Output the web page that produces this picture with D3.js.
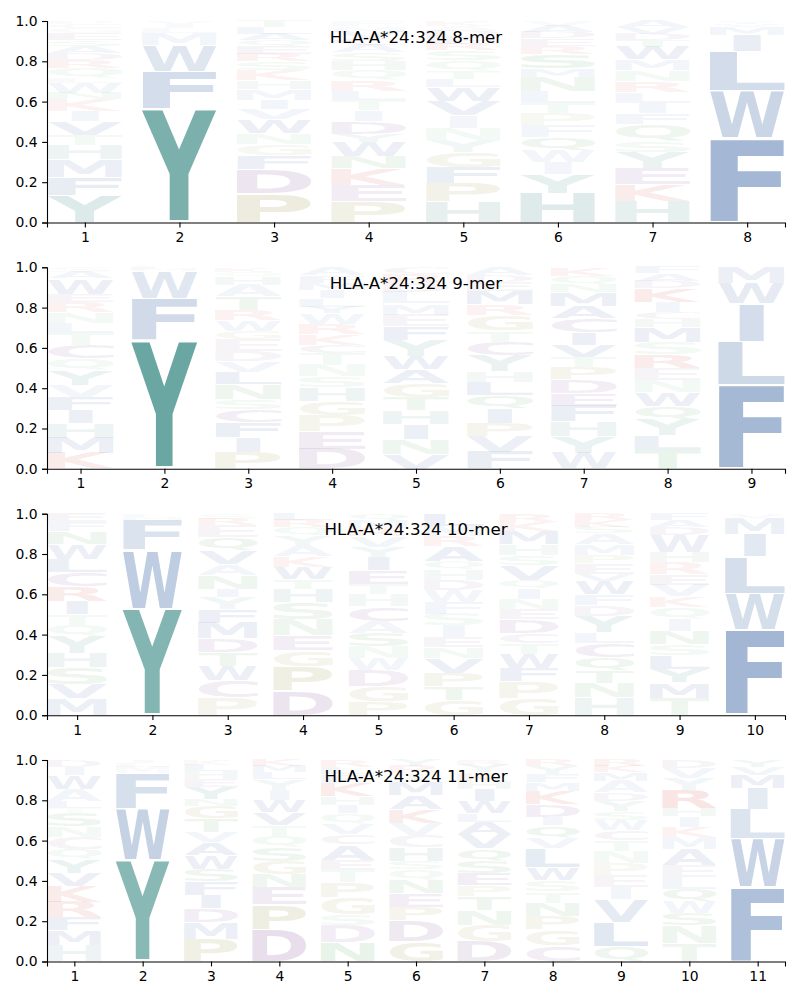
<!DOCTYPE html>
<html><head><meta charset="utf-8">
<script src="https://cdn.jsdelivr.net/npm/d3@7"></script>
<style>body{margin:0;background:#fff} svg{display:block}</style>
</head><body><svg id="chart" width="800" height="1000"></svg>
<script>
// ---------------- data (letter, frequency), bottom to top per position ----------------
const allele = "HLA-A*24:324";
const lengths = [8, 9, 10, 11];
const yTicks = [0, 0.2, 0.4, 0.6, 0.8, 1.0];

const mer8 = [
 [["Y",0.13],["F",0.088],["M",0.088],["H",0.07],["T",0.05],["V",0.065],["I",0.05],["K",0.058],["N",0.03],["W",0.05],["L",0.025],["Q",0.045],["R",0.04],["D",0.035],["A",0.035],["S",0.03],["E",0.03],["G",0.025],["C",0.02],["P",0.016]],
 [["Y",0.565],["F",0.185],["W",0.13],["M",0.06],["L",0.025],["I",0.02],["V",0.015]],
 [["P",0.138],["D",0.113],["F",0.066],["G",0.05],["N",0.053],["W",0.063],["V",0.05],["I",0.043],["M",0.05],["H",0.04],["K",0.05],["S",0.04],["R",0.035],["E",0.035],["Q",0.03],["A",0.03],["L",0.03],["T",0.03]],
 [["P",0.096],["E",0.075],["K",0.075],["N",0.058],["W",0.065],["Y",0.035],["D",0.058],["I",0.05],["T",0.05],["L",0.04],["R",0.05],["Q",0.045],["H",0.04],["S",0.04],["A",0.035],["C",0.03],["V",0.03],["M",0.025],["F",0.025]],
 [["H",0.1],["P",0.09],["F",0.075],["G",0.075],["Y",0.058],["N",0.058],["I",0.058],["V",0.07],["W",0.066],["L",0.04],["T",0.04],["Q",0.05],["S",0.05],["R",0.03],["E",0.03],["D",0.03],["A",0.025],["K",0.025]],
 [["H",0.143],["Y",0.09],["I",0.058],["W",0.058],["Q",0.063],["F",0.058],["P",0.058],["T",0.05],["L",0.058],["N",0.07],["M",0.04],["S",0.07],["R",0.04],["E",0.035],["D",0.03],["A",0.03],["V",0.025]],
 [["H",0.1],["K",0.078],["E",0.073],["Y",0.075],["S",0.05],["Q",0.08],["F",0.05],["I",0.05],["L",0.05],["R",0.05],["N",0.05],["M",0.05],["W",0.06],["T",0.03],["D",0.03],["V",0.03],["A",0.03]],
 [["F",0.42],["W",0.235],["L",0.195],["I",0.08],["M",0.04],["V",0.015],["Y",0.015]]
];

const mer9 = [
 [["K",0.075],["M",0.075],["H",0.07],["I",0.063],["F",0.066],["V",0.058],["Y",0.07],["Q",0.058],["C",0.066],["T",0.058],["L",0.05],["N",0.05],["R",0.05],["E",0.04],["W",0.075],["A",0.03],["S",0.025]],
 [["Y",0.64],["F",0.205],["W",0.135],["M",0.01],["L",0.01]],
 [["P",0.083],["I",0.07],["F",0.075],["C",0.063],["S",0.05],["N",0.07],["L",0.06],["V",0.055],["D",0.05],["E",0.058],["G",0.04],["W",0.05],["R",0.05],["T",0.066],["A",0.058],["H",0.04],["Q",0.025],["K",0.021]],
 [["D",0.096],["E",0.083],["P",0.076],["G",0.07],["H",0.066],["S",0.053],["N",0.055],["T",0.058],["C",0.04],["K",0.05],["R",0.05],["W",0.05],["Y",0.033],["L",0.04],["I",0.04],["M",0.035],["F",0.035],["A",0.04]],
 [["V",0.066],["N",0.066],["I",0.066],["H",0.058],["T",0.058],["G",0.063],["A",0.06],["W",0.06],["Y",0.07],["F",0.06],["E",0.05],["M",0.05],["L",0.05],["D",0.04],["R",0.04],["C",0.03]],
 [["F",0.075],["V",0.07],["P",0.058],["I",0.066],["Q",0.058],["L",0.058],["H",0.05],["Y",0.07],["C",0.06],["T",0.05],["G",0.066],["R",0.05],["M",0.06],["E",0.04],["D",0.03],["A",0.035]],
 [["W",0.075],["Y",0.078],["H",0.07],["F",0.075],["E",0.058],["D",0.066],["P",0.058],["T",0.05],["V",0.058],["I",0.058],["C",0.066],["A",0.058],["M",0.066],["N",0.04],["Q",0.04],["K",0.04]],
 [["T",0.09],["L",0.07],["Y",0.075],["Q",0.066],["W",0.066],["N",0.058],["E",0.058],["R",0.066],["S",0.058],["M",0.07],["H",0.04],["C",0.033],["I",0.05],["K",0.066],["D",0.035],["A",0.035],["F",0.03]],
 [["F",0.415],["L",0.215],["I",0.19],["W",0.1],["M",0.08]]
];

const mer10 = [
 [["M",0.075],["V",0.066],["S",0.075],["H",0.066],["Y",0.08],["Q",0.05],["T",0.05],["I",0.058],["R",0.066],["C",0.066],["L",0.058],["W",0.07],["N",0.058],["F",0.04],["E",0.04]],
 [["Y",0.527],["W",0.29],["F",0.15],["M",0.015],["L",0.015]],
 [["P",0.086],["C",0.08],["W",0.07],["T",0.066],["D",0.066],["M",0.075],["F",0.066],["Y",0.058],["I",0.04],["N",0.066],["A",0.05],["V",0.066],["Q",0.066],["E",0.058],["R",0.03],["S",0.025]],
 [["D",0.116],["P",0.118],["G",0.075],["E",0.07],["N",0.078],["S",0.08],["H",0.066],["T",0.045],["W",0.058],["K",0.05],["A",0.05],["Y",0.05],["Q",0.04],["R",0.035],["L",0.03]],
 [["P",0.066],["G",0.075],["D",0.075],["W",0.058],["N",0.058],["S",0.066],["A",0.058],["C",0.07],["H",0.058],["T",0.05],["E",0.066],["I",0.066],["Y",0.05],["V",0.05],["R",0.04],["M",0.04],["Q",0.03]],
 [["G",0.075],["T",0.066],["P",0.066],["V",0.075],["N",0.05],["E",0.05],["I",0.058],["S",0.058],["F",0.058],["W",0.058],["D",0.05],["H",0.05],["Q",0.04],["A",0.075],["R",0.05],["M",0.05],["L",0.06]],
 [["G",0.083],["P",0.08],["F",0.066],["W",0.07],["T",0.05],["C",0.05],["D",0.066],["E",0.05],["N",0.05],["I",0.05],["Q",0.04],["V",0.075],["S",0.05],["H",0.05],["M",0.066],["K",0.045],["R",0.04]],
 [["H",0.083],["N",0.066],["T",0.058],["Q",0.058],["C",0.066],["L",0.05],["Y",0.075],["D",0.05],["F",0.05],["W",0.06],["V",0.03],["E",0.05],["P",0.04],["M",0.05],["A",0.05],["S",0.03],["K",0.03],["R",0.03]],
 [["T",0.083],["M",0.075],["Y",0.066],["L",0.066],["S",0.055],["N",0.066],["I",0.058],["Q",0.058],["K",0.05],["V",0.058],["E",0.05],["R",0.058],["H",0.05],["W",0.083],["D",0.04],["A",0.035],["F",0.03]],
 [["F",0.423],["W",0.182],["L",0.182],["I",0.113],["M",0.08],["V",0.02]]
];

const mer11 = [
 [["H",0.08],["M",0.071],["F",0.063],["R",0.075],["K",0.075],["V",0.066],["Y",0.066],["Q",0.05],["C",0.058],["N",0.05],["S",0.066],["T",0.025],["L",0.033],["A",0.058],["W",0.066],["I",0.04],["D",0.035]],
 [["Y",0.502],["W",0.256],["F",0.176],["M",0.03],["L",0.02],["I",0.016]],
 [["P",0.108],["M",0.078],["D",0.066],["I",0.066],["F",0.066],["S",0.058],["W",0.066],["A",0.06],["V",0.05],["T",0.066],["G",0.06],["N",0.03],["Y",0.058],["E",0.04],["H",0.035],["L",0.03],["K",0.025]],
 [["D",0.154],["P",0.121],["E",0.083],["N",0.063],["G",0.066],["S",0.066],["Q",0.053],["T",0.055],["V",0.06],["W",0.06],["I",0.05],["Y",0.05],["L",0.035],["M",0.03],["K",0.03]],
 [["N",0.091],["D",0.083],["S",0.053],["G",0.083],["P",0.07],["T",0.058],["E",0.05],["A",0.075],["C",0.05],["V",0.05],["Q",0.05],["I",0.04],["H",0.04],["K",0.066],["F",0.04],["L",0.035],["R",0.035]],
 [["G",0.096],["D",0.1],["P",0.063],["E",0.066],["N",0.066],["Q",0.05],["S",0.04],["H",0.066],["C",0.058],["V",0.058],["K",0.066],["A",0.066],["M",0.066],["T",0.04],["R",0.035],["Y",0.03]],
 [["D",0.096],["G",0.078],["N",0.073],["T",0.066],["P",0.05],["E",0.058],["S",0.06],["Q",0.058],["V",0.07],["A",0.058],["L",0.04],["W",0.058],["I",0.058],["H",0.04],["K",0.04],["Y",0.035],["R",0.025]],
 [["C",0.075],["G",0.075],["P",0.063],["N",0.063],["T",0.053],["S",0.055],["W",0.06],["L",0.09],["V",0.05],["Q",0.058],["I",0.04],["D",0.058],["K",0.066],["M",0.04],["F",0.04],["Y",0.035],["R",0.03]],
 [["Q",0.07],["L",0.12],["V",0.11],["I",0.058],["E",0.058],["P",0.058],["N",0.058],["T",0.05],["C",0.05],["W",0.05],["S",0.04],["Y",0.05],["D",0.04],["A",0.058],["M",0.04],["K",0.03],["R",0.03]],
 [["T",0.088],["N",0.088],["S",0.06],["W",0.058],["Q",0.063],["L",0.058],["E",0.058],["A",0.08],["M",0.058],["K",0.05],["I",0.05],["H",0.04],["R",0.09],["Y",0.058],["V",0.05],["D",0.04]],
 [["F",0.37],["W",0.24],["L",0.145],["I",0.105],["M",0.065],["V",0.04],["Y",0.035]]
];

// letter colour groups
const groupColor = {hyd:"#3b66a4", tyr:"#2a807a", his:"#4a928a", acid:"#85549a", pg:"#9a9545", basic:"#c8352a", polar:"#4ea35c"};
const letterGroup = {A:"hyd",V:"hyd",L:"hyd",I:"hyd",M:"hyd",F:"hyd",W:"hyd",Y:"tyr",H:"his",
  D:"acid",E:"acid",C:"acid",P:"pg",G:"pg",K:"basic",R:"basic",N:"polar",Q:"polar",S:"polar",T:"polar"};

// ---------------- drawing ----------------
const svg = d3.select("#chart");
const FONT = "DejaVu Sans";
const left = 47, right = 785;
const tops = [21, 267.3, 513.7, 760];
const ph = 201.5;
const panels = [mer8, mer9, mer10, mer11];

const ctx = document.createElement("canvas").getContext("2d");
ctx.font = `bold 100px "${FONT}"`;
const cache = {};
function glyph(ch) {
  if (!cache[ch]) {
    const m = ctx.measureText(ch);
    cache[ch] = {l: m.actualBoundingBoxLeft, r: m.actualBoundingBoxRight,
                 a: m.actualBoundingBoxAscent, d: m.actualBoundingBoxDescent};
  }
  return cache[ch];
}
const gE = glyph("E");

panels.forEach((cols, i) => {
  const n = lengths[i];
  const top = tops[i], bottom = top + ph;
  const x = d3.scaleLinear().domain([0.6, n + 0.4]).range([left, right]);
  const y = d3.scaleLinear().domain([0, 1]).range([bottom, top]);
  const g = svg.append("g");

  cols.forEach((col, j) => {
    const pos = j + 1;
    const total = d3.sum(col, d => d[1]);
    let acc = 0;
    col.forEach(([ch, v]) => {
      const h = v / total;
      const y0 = acc, y1 = acc + h;
      acc = y1;
      const pad = 0.02 * h;
      const m = glyph(ch);
      const boxW = x(pos + 0.395) - x(pos - 0.395);
      const sx = Math.min(boxW / (m.l + m.r), boxW / (gE.l + gE.r));
      const x0 = x(pos) - (m.l + m.r) * sx / 2;
      const yt = y(y1 - pad), yb = y(y0 + pad);
      const sy = (yb - yt) / (m.a + m.d);
      g.append("text").text(ch)
        .attr("font-family", FONT).attr("font-weight", "bold").attr("font-size", 100)
        .attr("fill", groupColor[letterGroup[ch]])
        .attr("fill-opacity", Math.min(1, 0.025 + 1.05 * h))
        .attr("transform", `translate(${x0},${yt}) scale(${sx},${sy}) translate(${m.l},${m.a})`);
    });
  });

  const xAxis = g.append("g").attr("transform", `translate(0,${bottom})`)
    .call(d3.axisBottom(x).tickValues(d3.range(1, n + 1)).tickFormat(d3.format("d"))
      .tickSizeOuter(0).tickSize(4.9).tickPadding(4.6));
  const yAxis = g.append("g").attr("transform", `translate(${left},0)`)
    .call(d3.axisLeft(y).tickValues(yTicks).tickFormat(d3.format(".1f"))
      .tickSizeOuter(0).tickSize(4.9).tickPadding(4.6));
  [xAxis, yAxis].forEach(a => {
    a.attr("font-family", FONT).attr("font-size", 13.9);
    a.selectAll("text").attr("fill", "#000");
    a.selectAll("line").attr("stroke", "#000").attr("stroke-width", 1.1);
    a.select(".domain").attr("stroke", "#000").attr("stroke-width", 1.1);
  });

  g.append("text")
    .attr("x", (left + right) / 2).attr("y", top + 21.5)
    .attr("text-anchor", "middle")
    .attr("font-family", FONT).attr("font-size", 16.67).attr("fill", "#000")
    .text(`${allele} ${n}-mer`);
});
</script>
</body></html>
